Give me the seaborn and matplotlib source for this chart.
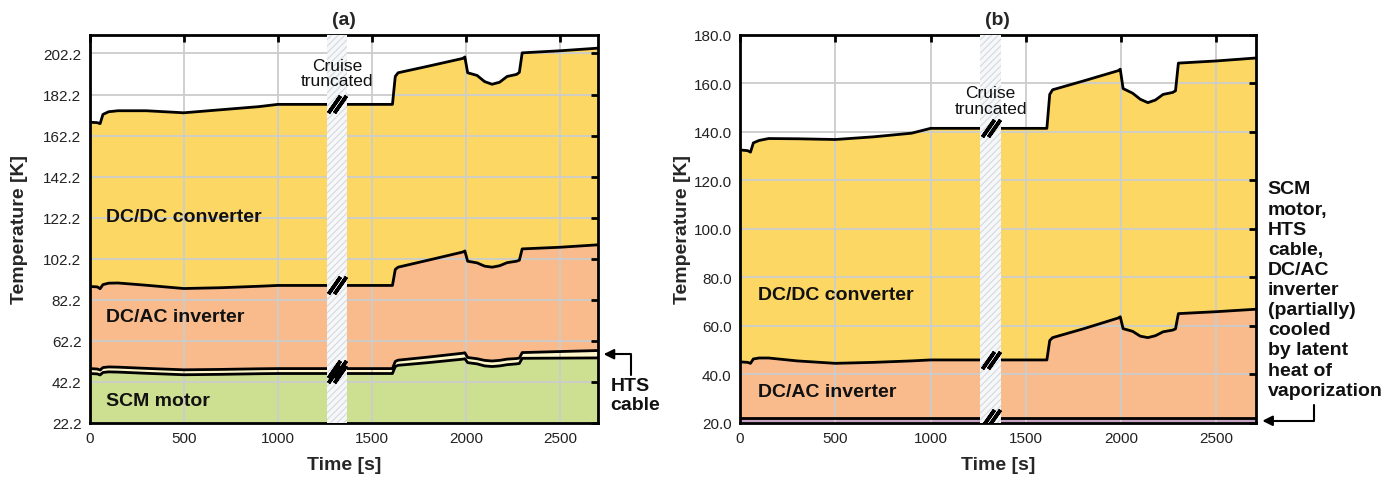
"""Temperature stack of the cryogenic components over a flight, two cooling cases."""

import matplotlib
matplotlib.use("Agg")
import matplotlib.pyplot as plt
import seaborn as sns

# shared time base [s]
time_s = [0, 40, 55, 70, 100, 150, 300, 500, 700, 900, 1000, 1255, 1370, 1610,
          1625, 1640, 1800, 1985, 1995, 2010, 2060, 2100, 2140, 2180, 2220, 2270,
          2285, 2300, 2500, 2705]

# panel (a): upper boundary of each layer [K]
a_scm = [46.3, 46.1, 45.6, 46.8, 47.1, 47.0, 46.4, 45.7, 45.9, 46.2, 46.3, 46.3, 46.3, 46.3,
         49.7, 50.3, 51.6, 53.3, 53.5, 51.6, 51.0, 50.0, 49.7, 50.0, 50.6, 51.0,
         51.2, 53.7, 53.8, 53.9]
a_hts = [48.7, 48.5, 48.0, 49.2, 49.5, 49.4, 48.8, 48.1, 48.3, 48.6, 48.7, 48.7, 48.7, 48.7,
         52.2, 52.8, 54.3, 56.2, 56.4, 54.1, 53.5, 52.7, 52.4, 52.7, 53.3, 53.6,
         53.8, 56.5, 57.0, 57.5]
a_dcac = [88.7, 88.5, 87.6, 89.6, 90.3, 90.4, 89.3, 87.7, 88.1, 88.8, 89.2, 89.2, 89.2, 89.2,
          97.0, 98.1, 101.5, 105.5, 106.0, 101.0, 100.2, 98.6, 98.1, 98.8, 100.3, 101.0,
          101.5, 107.0, 107.8, 109.0]
a_dcdc = [168.7, 168.5, 168.0, 172.5, 173.8, 174.3, 174.3, 173.3, 174.8, 176.3, 177.4, 177.4,
          177.4, 177.4, 191.0, 192.8, 196.0, 199.8, 200.5, 192.8, 191.5, 188.5, 187.2, 188.2,
          191.0, 192.0, 193.0, 202.5, 203.5, 204.8]

# panel (b)
b_pool_t = [0, 2705]
b_pool = [22.0, 22.0]
b_dcac = [45.2, 45.0, 44.6, 46.4, 46.8, 46.8, 45.6, 44.6, 45.0, 45.6, 46.0, 46.0, 46.0, 46.0,
          54.0, 55.2, 58.8, 63.3, 63.8, 58.9, 57.8, 55.8, 55.2, 56.0, 57.6, 58.3,
          58.8, 65.1, 65.9, 66.9]
b_dcdc = [132.6, 132.3, 131.7, 135.5, 136.5, 137.3, 137.2, 136.9, 138.0, 139.5, 141.5, 141.5,
          141.5, 141.5, 155.5, 157.4, 161.0, 165.3, 165.9, 157.9, 156.0, 153.5, 152.1, 153.2,
          155.5, 156.3, 157.0, 168.4, 169.3, 170.5]

cruise_span = [1260, 1370]
x_ticks = [0, 500, 1000, 1500, 2000, 2500]
a_yticks = [22.2, 42.2, 62.2, 82.2, 102.2, 122.2, 142.2, 162.2, 182.2, 202.2]
b_yticks = [20.0, 40.0, 60.0, 80.0, 100.0, 120.0, 140.0, 160.0, 180.0]

YELLOW = "#fdd764"
ORANGE = "#f9bb8c"
GREEN = "#cde091"
CREAM = "#fcf6c8"
PURPLE = "#c8a2c2"
FONT = ["Liberation Sans", "DejaVu Sans"]

sns.set_style("whitegrid")
plt.rcParams["font.family"] = FONT
plt.rcParams["hatch.color"] = "#d5d9de"
plt.rcParams["hatch.linewidth"] = 0.8


def style_axes(ax, ylim, yticks, fmt, ypad):
    ax.set_xlim(0, 2705)
    ax.set_ylim(*ylim)
    ax.set_xticks(x_ticks)
    ax.set_yticks(yticks)
    ax.set_yticklabels([fmt.format(v) for v in yticks])
    ax.grid(True, color="#cccccc", linewidth=1.3)
    ax.set_axisbelow("line")
    ax.tick_params(direction="in", length=5, width=2, top=True, right=True,
                   labelsize=11, labelcolor="#222222", color="black", pad=6)
    for sp in ax.spines.values():
        sp.set_color("black")
        sp.set_linewidth(2)
    ax.set_xlabel("Time [s]", fontsize=14, fontweight="bold", labelpad=8)
    ax.set_ylabel("Temperature [K]", fontsize=14, fontweight="bold", labelpad=ypad)


def boundary(ax, x, y):
    sns.lineplot(x=x, y=y, ax=ax, color="black", linewidth=2, estimator=None,
                 zorder=2, legend=False)


def cruise(ax, text_y, levels):
    ax.axvspan(*cruise_span, facecolor="#f6f7f9", edgecolor="#d5d9de", hatch="/////",
               linewidth=0, zorder=3)
    mid = sum(cruise_span) / 2
    for lv in levels:
        ax.plot([mid - 15, mid + 15], [lv, lv], linestyle="none", marker=(2, 2, -35),
                markersize=15, markeredgewidth=2.6, color="black", zorder=4)
    ax.text(mid, text_y, "Cruise\ntruncated", ha="center", va="center", fontsize=12.5,
            linespacing=1.05, color="#111111", zorder=5)


fig = plt.figure(figsize=(13.96, 4.85), dpi=100)
ax_a = fig.add_axes([0.0643, 0.1258, 0.3643, 0.80])
ax_b = fig.add_axes([0.5301, 0.1258, 0.3693, 0.80])

# ---- panel (a)
ax_a.fill_between(time_s, 22.2, a_scm, color=GREEN, linewidth=0, zorder=1)
ax_a.fill_between(time_s, a_scm, a_hts, color=CREAM, linewidth=0, zorder=1)
ax_a.fill_between(time_s, a_hts, a_dcac, color=ORANGE, linewidth=0, zorder=1)
ax_a.fill_between(time_s, a_dcac, a_dcdc, color=YELLOW, linewidth=0, zorder=1)
for s in (a_scm, a_hts, a_dcac, a_dcdc):
    boundary(ax_a, time_s, s)
style_axes(ax_a, (22.2, 211.2), a_yticks, "{:.1f}", 11)
cruise(ax_a, 192.6, [a_scm[12], a_hts[12], a_dcac[12], a_dcdc[12]])
ax_a.set_title("(a)", fontsize=14, fontweight="bold", pad=8)

lab = dict(fontsize=14, fontweight="bold", color="#111111", va="center", ha="left", zorder=5)
ax_a.text(88, 122.7, "DC/DC converter", **lab)
ax_a.text(88, 74.0, "DC/AC inverter", **lab)
ax_a.text(88, 33.3, "SCM motor", **lab)
ax_a.text(2771, 44.5, "HTS\ncable", fontsize=14, fontweight="bold", color="#111111",
          va="top", ha="left", linespacing=1.15, clip_on=False)
ax_a.annotate("", xy=(2733, 55.7), xytext=(2881, 45.5), annotation_clip=False,
              arrowprops=dict(arrowstyle="-|>,head_length=0.6,head_width=0.3",
                              connectionstyle="angle,angleA=90,angleB=0,rad=0",
                              color="black", lw=1.5, shrinkA=0, shrinkB=0))

# ---- panel (b)
ax_b.fill_between(time_s, 20.0, b_dcac, color=ORANGE, linewidth=0, zorder=1)
ax_b.fill_between(time_s, b_dcac, b_dcdc, color=YELLOW, linewidth=0, zorder=1)
ax_b.fill_between(b_pool_t, 20.0, b_pool, color=PURPLE, linewidth=0, zorder=1.2)
boundary(ax_b, b_pool_t, b_pool)
boundary(ax_b, time_s, b_dcac)
boundary(ax_b, time_s, b_dcdc)
style_axes(ax_b, (20.0, 180.0), b_yticks, "{:.1f}", 2)
cruise(ax_b, 153.0, [b_pool[0], b_dcac[12], b_dcdc[12]])
ax_b.set_title("(b)", fontsize=14, fontweight="bold", pad=8)

ax_b.text(96, 72.8, "DC/DC converter", **lab)
ax_b.text(96, 32.8, "DC/AC inverter", **lab)
ax_b.text(2769, 120.0,
          "SCM\nmotor,\nHTS\ncable,\nDC/AC\ninverter\n(partially)\ncooled\nby latent\nheat of\nvaporization",
          fontsize=14, fontweight="bold", color="#111111", va="top", ha="left",
          linespacing=1.24, clip_on=False)
ax_b.annotate("", xy=(2740, 20.9), xytext=(3014, 27.6), annotation_clip=False,
              arrowprops=dict(arrowstyle="-|>,head_length=0.6,head_width=0.3",
                              connectionstyle="angle,angleA=90,angleB=0,rad=0",
                              color="black", lw=1.5, shrinkA=0, shrinkB=0))

fig.savefig("out.png", dpi=100)
plt.close(fig)
